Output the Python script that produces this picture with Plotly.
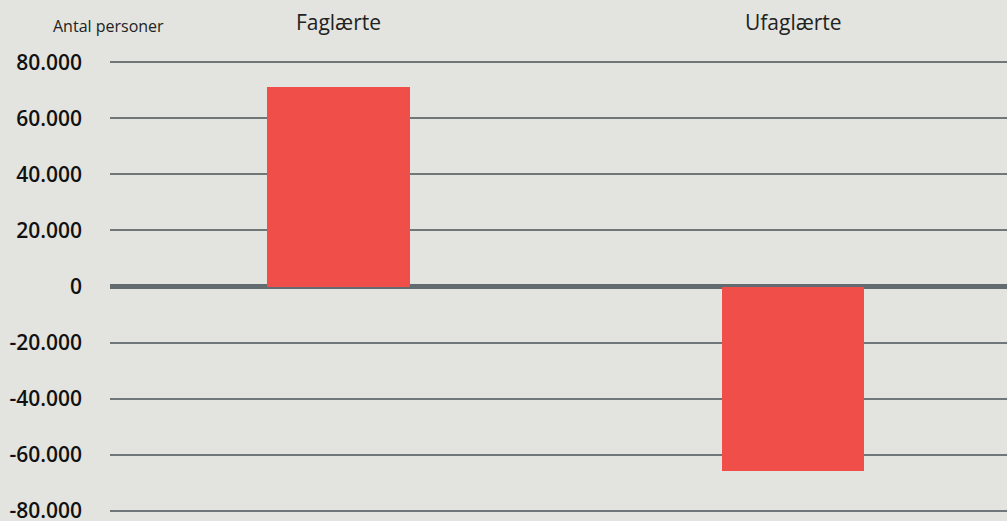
import plotly.graph_objects as go

categories = ['Faglærte', 'Ufaglærte']
values = [71300, -65800]
y_ticks = [-80000, -60000, -40000, -20000, 0, 20000, 40000, 60000, 80000]
y_labels = ['-80.000', '-60.000', '-40.000', '-20.000', '0', '20.000', '40.000', '60.000', '80.000']

fig = go.Figure()
fig.add_trace(go.Bar(x=[0, 1], y=values, width=0.313,
                     marker=dict(color='#f04f49', line=dict(width=0))))

fig.update_layout(
    width=1007, height=521,
    paper_bgcolor='#e3e4df', plot_bgcolor='#e3e4df',
    margin=dict(l=110, r=0, t=61, b=9),
    font=dict(family='Open Sans', color='#1a1a1a'),
    showlegend=False,
    bargap=0,
)
# "Antal personer" label, positioned in paper coords from pixel estimates
fig.add_annotation(text='Antal personer', xref='paper', yref='paper',
                   x=(108 - 110) / 897, y=1 + (61 - 26) / 451,
                   xanchor='center', yanchor='middle', showarrow=False,
                   font=dict(size=16, color='#222'))

fig.update_xaxes(
    side='top', tickmode='array', tickvals=[0, 1], ticktext=categories,
    range=[-0.5024, 1.4699], showgrid=False, zeroline=False, showline=False,
    ticks='', tickfont=dict(size=21, color='#222'), ticklabelstandoff=26,
    automargin=False,
)
fig.update_yaxes(
    range=[-80500, 80500], tickmode='array', tickvals=y_ticks, ticktext=y_labels,
    showgrid=True, gridcolor='#6f7778', gridwidth=1.5,
    zeroline=True, zerolinecolor='#626c70', zerolinewidth=5,
    tickfont=dict(size=21, color='#111', weight=600), ticklabelstandoff=27,
    ticklabeloverflow='allow', layer='above traces', automargin=False,
)

fig.write_html("out.html", config={'displayModeBar': False},
               post_script="document.body.style.margin='0';")
